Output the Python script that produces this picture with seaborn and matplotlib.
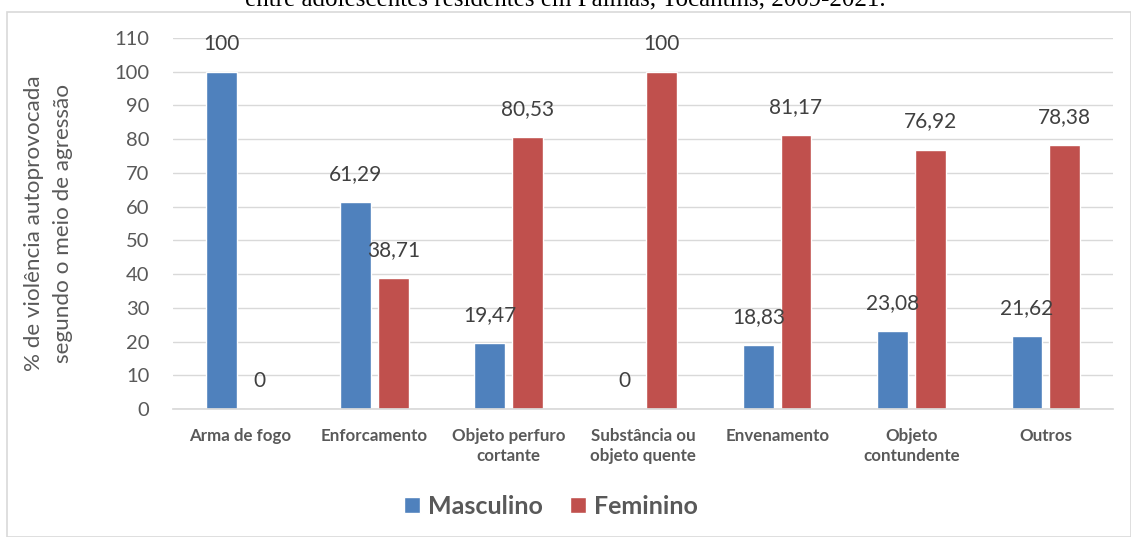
import matplotlib
matplotlib.use("Agg")
import matplotlib.pyplot as plt
import seaborn as sns
import pandas as pd
from matplotlib.patches import Rectangle

categories = ["Arma de fogo", "Enforcamento", "Objeto perfuro\ncortante",
              "Substância ou\nobjeto quente", "Envenamento", "Objeto\ncontundente", "Outros"]
masculino = [100, 61.29, 19.47, 0, 18.83, 23.08, 21.62]
feminino = [0, 38.71, 80.53, 100, 81.17, 76.92, 78.38]
series = ["Masculino", "Feminino"]
colors = ["#4F81BD", "#C0504D"]
yticks = list(range(0, 111, 10))

df = pd.DataFrame({
    "cat": categories * 2,
    "sexo": [series[0]] * len(categories) + [series[1]] * len(categories),
    "val": masculino + feminino,
})

sns.set_theme(style="white")
plt.rcParams['font.family'] = ['Lato', 'DejaVu Sans']

fig = plt.figure(figsize=(11.31, 5.37), dpi=100)
ax = fig.add_axes([0.153, 0.2384, 0.831, 0.6908])

sns.barplot(data=df, x="cat", y="val", hue="sexo", palette=colors, ax=ax,
            width=0.56, gap=0.18, saturation=1, errorbar=None, legend=True)

ax.set_ylim(0, 110)
ax.set_yticks(yticks)
ax.set_yticklabels([str(t) for t in yticks], fontsize=14.5, color="#595959")
ax.yaxis.grid(True, color="#d9d9d9", linewidth=1)
ax.set_axisbelow(True)
for s in ["top", "right", "left"]:
    ax.spines[s].set_visible(False)
ax.spines["bottom"].set_color("#d9d9d9")
ax.tick_params(axis="y", length=0, pad=17)
ax.tick_params(axis="x", length=0, pad=14)
ax.set_xlabel("")
ax.set_xticks(range(len(categories)))
ax.set_xticklabels(categories, fontsize=12.2, fontweight="bold", color="#595959",
                   linespacing=1.25)
ax.set_ylabel("% de violência autoprovocada\nsegundo o meio de agressão",
              fontsize=16.2, color="#595959", labelpad=30, linespacing=1.55)

def fmt(v):
    return ("%g" % v).replace(".", ",") if v != int(v) else str(int(v))

for cont in ax.containers:
    ax.bar_label(cont, labels=[fmt(v) for v in cont.datavalues], padding=13,
                 fontsize=15, color="#404040")

leg = ax.legend(loc="center", bbox_to_anchor=(0.402, -0.262), ncol=2, frameon=False,
                prop={"size": 18, "weight": "bold"}, handlelength=0.65, handleheight=0.65,
                handletextpad=0.3, columnspacing=1.1)
for t in leg.get_texts():
    t.set_color("#595959")

fig.patches.append(Rectangle((7 / 1131, 0), 1 - 7 / 1131, 1 - 12 / 537, transform=fig.transFigure,
                             fill=False, edgecolor="#d9d9d9", linewidth=1.2))
fig.text(0.5, 1 - 5 / 537, "entre adolescentes residentes em Palmas, Tocantins, 2009-2021.",
         ha="center", va="baseline", fontsize=18, family="Liberation Serif", color="black")

fig.savefig("out.png", dpi=100)
